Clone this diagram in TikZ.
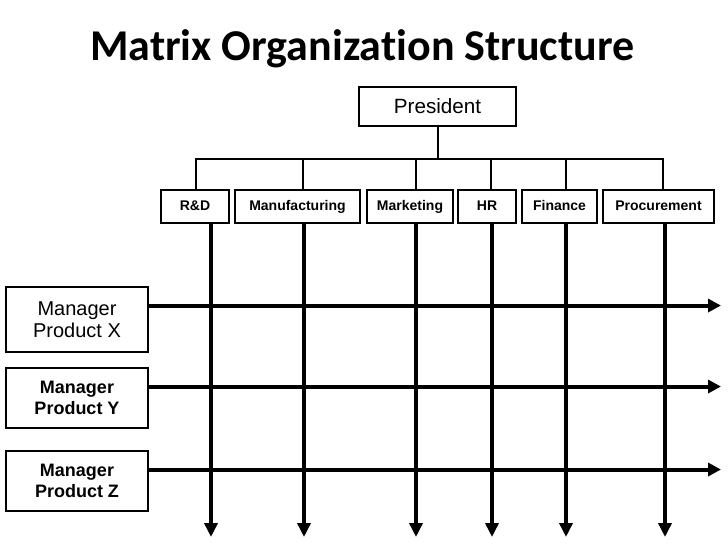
\documentclass[tikz,border=0pt]{standalone}
\usepackage{fontspec}
\setmainfont{Liberation Sans}
\newfontfamily\titlefont[Ligatures=NoCommon]{Carlito}
\usetikzlibrary{arrows.meta, positioning, calc}
\definecolor{inkcol}{HTML}{000000}
\tikzset{
    posbox/.style 2 args={rectangle, draw=inkcol, line width=1.5pt, minimum width=#1, minimum height=#2, inner sep=2pt, align=center},
    deptbox/.style={posbox={#1}{24.75pt}, text height=8pt, text depth=2.2pt, font=\fontsize{10.5}{12}\selectfont\bfseries},
    mgrbox/.style={posbox={106.5pt}{#1}, line width=2.2pt, font=\fontsize{15}{16.5}\selectfont},
    busline/.style={inkcol, line width=1.5pt},
    colarrow/.style={-{Triangle[length=10.5pt, width=9.75pt]}, inkcol, line width=3pt},
    rowarrow/.style={-{Triangle[length=9.75pt, width=9.75pt]}, inkcol, line width=3pt},
    titletext/.style={font=\titlefont\fontsize{33}{36}\selectfont\bfseries, anchor=base west, inner sep=0pt},
}
\begin{document}
\begin{tikzpicture}[x=0.75pt, y=-0.75pt]
\useasboundingbox[fill=white] (0,0) rectangle (728,546);
\node[titletext] (title) at (90,60) {Matrix Organization Structure};
% top of the hierarchy
\node[posbox={117.75pt}{29.25pt}, font=\fontsize{15.5}{17}\selectfont] (pres) at (437.5,106.5) {President};
\node[deptbox=51pt] (rd) at (195,206.5) {R\&D};
\node[deptbox=93.75pt] (mfg) at (297.5,206.5) {Manufacturing};
\node[deptbox=64.5pt] (mkt) at (410,206.5) {Marketing};
\node[deptbox=43.5pt] (hr) at (487,206.5) {HR};
\node[deptbox=56.25pt] (fin) at (559.5,206.5) {Finance};
\node[deptbox=83.25pt] (proc) at (658.5,206.5) {Procurement};
% product managers
\node[mgrbox=48.75pt] (mgrx) at (77,319.5) {Manager\\Product X};
\node[mgrbox=45pt, font=\fontsize{13.5}{16}\selectfont\bfseries] (mgry) at (77,398) {Manager\\Product Y};
\node[mgrbox=45pt, font=\fontsize{13.5}{16}\selectfont\bfseries] (mgrz) at (77,481) {Manager\\Product Z};
\coordinate (busy) at (0,159);
\coordinate (tip) at (0,537);
\coordinate (rend) at (721,0);
\draw[busline] (pres.south) -- (pres.south |- busy) coordinate (bus);
\foreach \d/\b/\a in {rd/196/211, mfg/303/304, mkt/416/416, hr/491/492, fin/566/566, proc/663/665} {
    \coordinate (b\d) at (\b,0);
    \coordinate (c\d) at (\a,0);
    \draw[busline] (bus) -| (b\d |- \d.north);
    \draw[colarrow] (c\d |- \d.south) -- (c\d |- tip);
}
\foreach \m in {mgrx, mgry, mgrz}
    \draw[rowarrow] ([yshift=-15pt]\m.north east) coordinate (r\m) -- (r\m -| rend);
\end{tikzpicture}
\end{document}
